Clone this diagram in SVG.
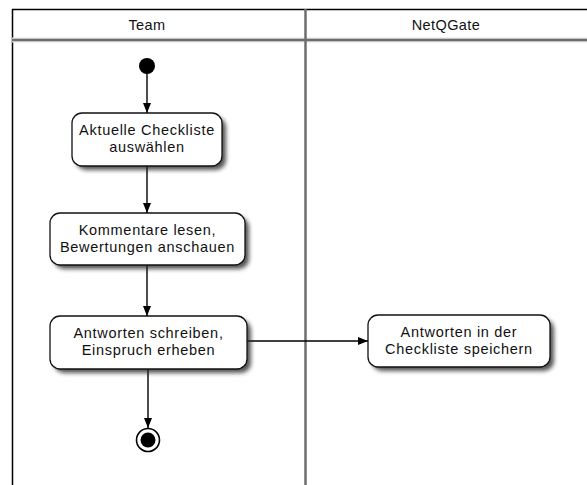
<svg xmlns="http://www.w3.org/2000/svg" width="587" height="485" viewBox="0 0 587 485">
  <style>
    .lane-title { font-family: "Liberation Sans", Arial, sans-serif; font-size: 14.5px; fill: #111; text-anchor: middle; letter-spacing: 0.4px; }
    .label { font-family: "Liberation Sans", Arial, sans-serif; font-size: 14.5px; fill: #111; text-anchor: middle; letter-spacing: 0.7px; }
    .box { fill: #ffffff; stroke: #111; stroke-width: 1.3; }
    .shadow { fill: #2a2a2a; opacity: 0.8; filter: url(#blur); }
    .flow { stroke: #000; stroke-width: 1.4; fill: none; marker-end: url(#arrow); }
    .lane-line { stroke: #6e6e6e; stroke-width: 2.5; }
  </style>
  <defs>
    <filter id="blur" x="-20%" y="-30%" width="140%" height="160%">
      <feGaussianBlur stdDeviation="2.2"/>
    </filter>
    <marker id="arrow" viewBox="0 0 10 10" refX="10" refY="5" markerWidth="10" markerHeight="10" markerUnits="userSpaceOnUse" orient="auto">
      <path d="M0,1 L10,5 L0,9 Z" fill="#000"/>
    </marker>
  </defs>

  <rect width="587" height="485" fill="#ffffff"/>

  <!-- swimlane frame -->
  <g id="lanes">
    <line x1="12" y1="9.5" x2="587" y2="9.5" stroke="#000" stroke-width="1.5"/>
    <line x1="12.5" y1="9" x2="12.5" y2="485" stroke="#000" stroke-width="1.5"/>
    <line x1="12" y1="40" x2="587" y2="40" stroke="#e3e3e3" stroke-width="5"/>
    <line class="lane-line" x1="12" y1="40" x2="587" y2="40"/>
    <line class="lane-line" x1="305.5" y1="9" x2="305.5" y2="485"/>
    <text class="lane-title" x="147" y="30">Team</text>
    <text class="lane-title" x="446" y="30">NetQGate</text>
  </g>

  <!-- connectors -->
  <g id="connectors">
    <line class="flow" x1="147" y1="72" x2="147" y2="113"/>
    <line class="flow" x1="147" y1="166" x2="147" y2="213"/>
    <line class="flow" x1="147" y1="265" x2="147" y2="316"/>
    <line class="flow" x1="148" y1="369" x2="148" y2="428"/>
    <line class="flow" x1="247" y1="341" x2="368" y2="341"/>
  </g>

  <g id="start">
    <circle cx="147" cy="66" r="8" fill="#000"/>
  </g>

  <g id="checkliste-waehlen">
    <rect class="shadow" x="76" y="117" width="150" height="53" rx="10"/>
    <rect class="box" x="72" y="113" width="150" height="53" rx="10"/>
    <text class="label" x="147" y="135">Aktuelle Checkliste</text>
    <text class="label" x="147" y="152">auswählen</text>
  </g>

  <g id="kommentare-lesen">
    <rect class="shadow" x="54" y="217" width="195" height="52" rx="10"/>
    <rect class="box" x="50" y="213" width="195" height="52" rx="10"/>
    <text class="label" x="147.5" y="235">Kommentare lesen,</text>
    <text class="label" x="147.5" y="252">Bewertungen anschauen</text>
  </g>

  <g id="antworten-schreiben">
    <rect class="shadow" x="54" y="320" width="197" height="53" rx="10"/>
    <rect class="box" x="50" y="316" width="197" height="53" rx="10"/>
    <text class="label" x="148.5" y="338">Antworten schreiben,</text>
    <text class="label" x="148.5" y="355">Einspruch erheben</text>
  </g>

  <g id="antworten-speichern">
    <rect class="shadow" x="372" y="319" width="182" height="52" rx="10"/>
    <rect class="box" x="368" y="315" width="182" height="52" rx="10"/>
    <text class="label" x="459" y="337">Antworten in der</text>
    <text class="label" x="459" y="354">Checkliste speichern</text>
  </g>

  <g id="end">
    <circle cx="148" cy="440" r="11.5" fill="#fff" stroke="#000" stroke-width="1.6"/>
    <circle cx="148" cy="440" r="7.5" fill="#000"/>
  </g>
</svg>
